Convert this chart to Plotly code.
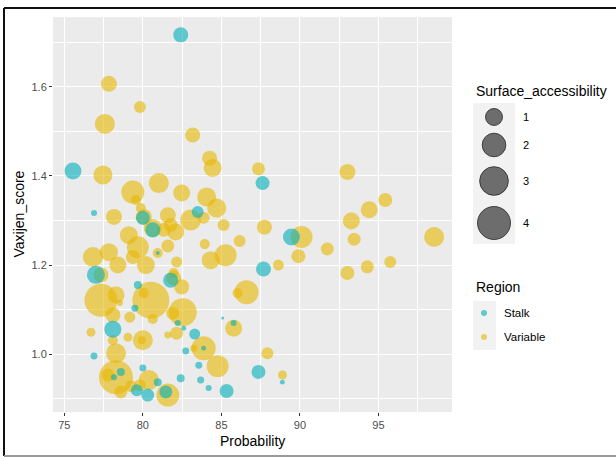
import numpy as np
import plotly.graph_objects as go

# ---------------- data ----------------
stalk_probability = [82.41, 87.62, 75.55, 76.89, 80.00, 80.63, 83.49, 80.95, 77.01, 81.77,
                     79.68, 79.49, 82.22, 78.09, 82.60, 83.30, 83.87, 82.73, 85.08, 85.78,
                     76.89, 80.00, 78.60, 78.16, 79.62, 80.31, 80.95, 81.46, 82.41, 83.68,
                     83.56, 84.19, 85.33, 89.46, 87.68, 87.36, 88.88]
stalk_vaxijen = [1.717, 1.384, 1.411, 1.317, 1.306, 1.279, 1.319, 1.227, 1.178, 1.166,
                 1.155, 1.103, 1.070, 1.056, 1.058, 1.045, 1.013, 1.007, 1.081, 1.070,
                 0.996, 0.969, 0.960, 0.948, 0.919, 0.908, 0.937, 0.915, 0.946, 0.942,
                 0.975, 0.924, 0.917, 1.263, 1.191, 0.960, 0.937]
stalk_surface = [0.77, 0.66, 1.00, 0.10, 0.66, 0.77, 0.47, 0.035, 1.13, 0.77,
                 0.19, 0.14, 0.10, 1.00, 0.06, 0.39, 0.06, 0.14, 0.016, 0.10,
                 0.14, 0.14, 0.19, 0.10, 0.47, 0.56, 0.19, 0.56, 0.19, 0.14,
                 0.14, 0.10, 0.66, 1.00, 0.77, 0.66, 0.06]

variable_probability = [77.84, 79.81, 77.58, 83.17, 84.25, 84.44, 87.36, 93.02, 77.46, 81.02,
                        79.36, 82.47, 84.06, 84.70, 95.43, 94.41, 93.27, 78.16, 79.55, 79.87,
                        80.06, 80.63, 81.59, 81.77, 82.09, 81.33, 83.04, 83.87, 85.14, 79.11,
                        79.68, 79.36, 81.59, 83.94, 86.16, 76.82, 77.84, 78.41, 80.19, 80.95,
                        82.15, 84.32, 85.27, 81.96, 77.33, 81.96, 77.33, 78.29, 78.54, 80.51,
                        80.06, 82.47, 86.60, 86.03, 78.09, 79.17, 82.54, 81.90, 80.63, 76.70,
                        78.09, 79.05, 80.00, 79.94, 81.59, 82.15, 83.87, 83.24, 84.76, 85.78,
                        78.29, 78.29, 77.78, 78.60, 79.24, 79.81, 80.38, 81.59, 87.74, 90.10,
                        89.90, 91.74, 93.45, 98.54, 88.63, 93.02, 94.29, 95.75, 87.93, 88.89]
variable_vaxijen = [1.607, 1.555, 1.517, 1.492, 1.440, 1.418, 1.416, 1.409, 1.402, 1.384,
                    1.364, 1.362, 1.353, 1.328, 1.346, 1.324, 1.299, 1.308, 1.346, 1.328,
                    1.308, 1.283, 1.312, 1.290, 1.274, 1.279, 1.301, 1.306, 1.290, 1.267,
                    1.240, 1.218, 1.243, 1.247, 1.254, 1.218, 1.229, 1.200, 1.200, 1.227,
                    1.207, 1.211, 1.222, 1.182, 1.178, 1.171, 1.121, 1.133, 1.115, 1.121,
                    1.137, 1.151, 1.139, 1.137, 1.088, 1.083, 1.094, 1.092, 1.079, 1.049,
                    1.031, 1.038, 1.031, 1.031, 1.043, 1.047, 1.013, 1.013, 0.973, 1.058,
                    1.002, 0.948, 0.953, 0.915, 0.928, 0.930, 0.942, 0.908, 1.285, 1.263,
                    1.220, 1.236, 1.258, 1.263, 1.200, 1.182, 1.196, 1.207, 1.002, 0.953]
variable_surface = [0.88, 0.47, 1.41, 0.77, 0.77, 1.13, 0.56, 0.88, 1.27, 1.41,
                    1.89, 1.00, 1.27, 1.27, 0.66, 1.00, 1.00, 0.88, 0.32, 0.32,
                    0.88, 1.13, 0.88, 0.66, 1.00, 0.66, 1.56, 0.47, 0.47, 1.13,
                    1.72, 0.66, 0.56, 0.32, 0.47, 1.41, 1.13, 1.00, 1.13, 0.32,
                    0.39, 1.13, 1.72, 0.32, 0.77, 0.77, 4.00, 1.00, 0.10, 5.06,
                    0.32, 0.77, 2.07, 0.32, 0.77, 0.39, 2.85, 0.56, 0.32, 0.25,
                    0.32, 0.25, 1.41, 0.19, 0.14, 0.56, 2.07, 0.14, 1.72, 1.00,
                    1.41, 4.25, 0.56, 0.56, 0.47, 0.47, 1.41, 1.89, 0.77, 1.72,
                    0.66, 0.56, 0.56, 1.41, 0.39, 0.66, 0.56, 0.47, 0.47, 0.25]

x_ticks = [75, 80, 85, 90, 95]
y_ticks = [1.0, 1.2, 1.4, 1.6]
y_tick_labels = ["1.0", "1.2", "1.4", "1.6"]
size_breaks = [1, 2, 3, 4]
region_names = ["Stalk", "Variable"]
region_colors = ["#00AFBB", "#E7B800"]

# ---------------- layout helpers ----------------
W, H = 616, 457
PL, PR, PT, PB = 53, 452, 17, 412          # panel edges in pixels
X_RANGE = [74.28, 99.68]
Y_RANGE = [0.870, 1.757]
ALPHA = 0.6


def diameter(v):
    return 1 + 16 * np.sqrt(np.asarray(v, dtype=float))


def pxp(px, py):
    return (px - PL) / (PR - PL), (PB - py) / (PB - PT)


fig = go.Figure()

series = [
    ("Variable", variable_probability, variable_vaxijen, variable_surface, region_colors[1]),
    ("Stalk", stalk_probability, stalk_vaxijen, stalk_surface, region_colors[0]),
]
for name, xs, ys, ss, col in series:
    fig.add_trace(go.Scatter(
        x=xs, y=ys, mode="markers", name=name,
        marker=dict(size=diameter(ss), sizemode="diameter", color=col,
                    opacity=ALPHA, line=dict(width=0)),
        showlegend=False, hoverinfo="x+y",
    ))

shapes = []
annotations = []

# frame around the picture (left + top dark, bottom grey)
fl, ft = pxp(4, 8)
fr, fb = pxp(617, 456)
shapes.append(dict(type="line", xref="paper", yref="paper", x0=fl, x1=fl, y0=fb, y1=ft,
                   line=dict(color="#111111", width=2)))
shapes.append(dict(type="line", xref="paper", yref="paper", x0=fl, x1=fr, y0=ft, y1=ft,
                   line=dict(color="#111111", width=2)))
shapes.append(dict(type="line", xref="paper", yref="paper", x0=fl, x1=fr, y0=fb, y1=fb,
                   line=dict(color="#9a9a9a", width=2)))

# axis titles
ax, ay = pxp(252, 441)
annotations.append(dict(text="Probability", xref="paper", yref="paper", x=0.5, y=ay,
                        showarrow=False, xanchor="center", yanchor="middle",
                        font=dict(size=14, color="#000000")))
ax, ay = pxp(18, 215)
annotations.append(dict(text="Vaxijen_score", xref="paper", yref="paper", x=ax, y=0.5,
                        showarrow=False, xanchor="center", yanchor="middle", textangle=-90,
                        font=dict(size=14, color="#000000")))

# ---- size legend ----
tx, ty = pxp(474, 91)
annotations.append(dict(text="Surface_accessibility", xref="paper", yref="paper", x=tx, y=ty,
                        showarrow=False, xanchor="left", yanchor="middle",
                        font=dict(size=14, color="#000000")))
bx0, by0 = pxp(473, 103)
bx1, by1 = pxp(515, 244)
shapes.append(dict(type="rect", xref="paper", yref="paper", x0=bx0, x1=bx1, y0=by1, y1=by0,
                   fillcolor="#F2F2F2", line=dict(width=0), layer="below"))
key_centers_y = [117, 145, 181, 223]
for b, cy in zip(size_breaks, key_centers_y):
    d = float(diameter(b))
    cx, cyp = pxp(494, cy)
    shapes.append(dict(type="circle", xref="paper", yref="paper", xsizemode="pixel",
                       ysizemode="pixel", xanchor=cx, yanchor=cyp,
                       x0=-d / 2, x1=d / 2, y0=-d / 2, y1=d / 2,
                       fillcolor="rgba(0,0,0,0.55)", line=dict(color="rgba(40,40,40,0.8)", width=1)))
    lx, ly = pxp(521, cy)
    annotations.append(dict(text=str(b), xref="paper", yref="paper", x=lx, y=ly,
                            showarrow=False, xanchor="left", yanchor="middle",
                            font=dict(size=11, color="#000000")))

# ---- region legend ----
tx, ty = pxp(474, 287)
annotations.append(dict(text="Region", xref="paper", yref="paper", x=tx, y=ty,
                        showarrow=False, xanchor="left", yanchor="middle",
                        font=dict(size=14, color="#000000")))
bx0, by0 = pxp(473, 301)
bx1, by1 = pxp(496, 350)
shapes.append(dict(type="rect", xref="paper", yref="paper", x0=bx0, x1=bx1, y0=by1, y1=by0,
                   fillcolor="#F2F2F2", line=dict(width=0), layer="below"))
region_key_y = [313, 337]
for name, col, cy in zip(region_names, region_colors, region_key_y):
    d = 6
    cx, cyp = pxp(484, cy)
    shapes.append(dict(type="circle", xref="paper", yref="paper", xsizemode="pixel",
                       ysizemode="pixel", xanchor=cx, yanchor=cyp,
                       x0=-d / 2, x1=d / 2, y0=-d / 2, y1=d / 2,
                       fillcolor=col, opacity=ALPHA, line=dict(width=0)))
    lx, ly = pxp(502, cy)
    annotations.append(dict(text=name, xref="paper", yref="paper", x=lx, y=ly,
                            showarrow=False, xanchor="left", yanchor="middle",
                            font=dict(size=11.5, color="#000000")))

axis_common = dict(
    showgrid=True, gridcolor="#FFFFFF", gridwidth=1.2, zeroline=False, showline=False,
    ticks="outside", ticklen=3, tickwidth=1, tickcolor="#333333",
    tickfont=dict(size=11, color="#4D4D4D"), fixedrange=True,
)

fig.update_layout(
    width=W, height=H, autosize=False,
    margin=dict(l=PL, r=W - PR, t=PT, b=H - PB, pad=0),
    paper_bgcolor="#FFFFFF", plot_bgcolor="#EBEBEB",
    font=dict(family="Liberation Sans, Arial, sans-serif", color="#000000"),
    showlegend=False,
    xaxis=dict(range=X_RANGE, tickmode="array", tickvals=x_ticks,
               ticktext=[str(t) for t in x_ticks],
               minor=dict(dtick=2.5, tick0=77.5, showgrid=True, gridcolor="#FFFFFF",
                          gridwidth=0.6, ticks=""),
               **axis_common),
    yaxis=dict(range=Y_RANGE, tickmode="array", tickvals=y_ticks, ticktext=y_tick_labels,
               minor=dict(dtick=0.1, tick0=0.9, showgrid=True, gridcolor="#FFFFFF",
                          gridwidth=0.6, ticks=""),
               **axis_common),
    shapes=shapes,
    annotations=annotations,
)

fig.write_html(
    "out.html",
    config={"displayModeBar": False},
    post_script="document.body.style.margin='0';document.body.style.padding='0';",
)
